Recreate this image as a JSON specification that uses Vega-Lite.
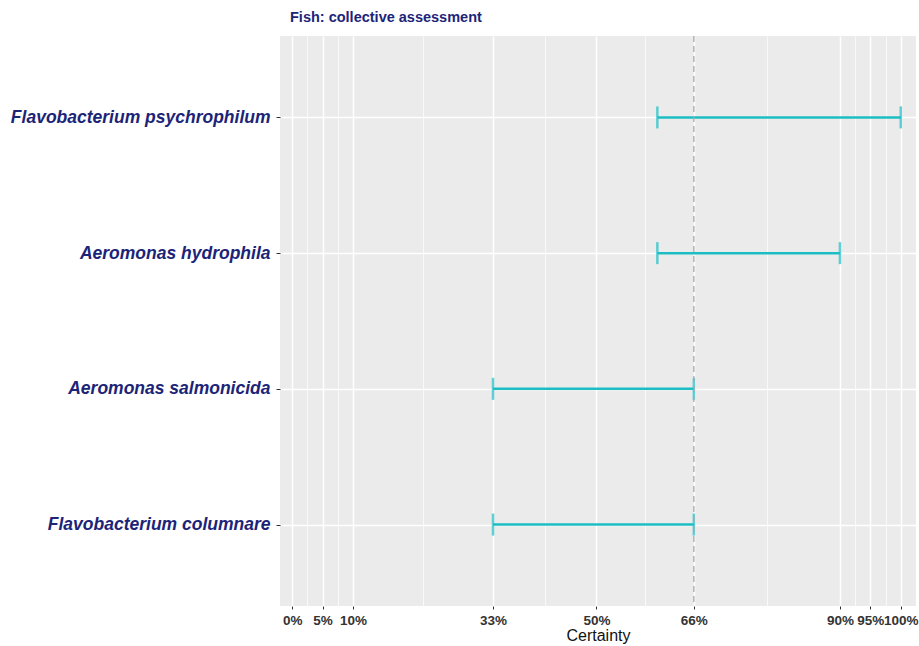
{
  "$schema": "https://vega.github.io/schema/vega-lite/v6.json",
  "autosize": "none",
  "width": 636,
  "height": 570,
  "padding": {"left": 280, "top": 36, "right": 3, "bottom": 40},
  "background": "white",
  "title": {
    "text": "Fish: collective assessment",
    "anchor": "start",
    "frame": "group",
    "offset": 10,
    "dx": 10,
    "font": "Liberation Sans",
    "fontSize": 14.5,
    "fontWeight": "bold",
    "color": "#1C2478"
  },
  "config": {
    "view": {"fill": "#EBEBEB", "stroke": null},
    "axis": {"domain": false}
  },
  "data": {
    "values": [
      {"species": "Flavobacterium psychrophilum", "lo": 60, "hi": 100},
      {"species": "Aeromonas hydrophila", "lo": 60, "hi": 90},
      {"species": "Aeromonas salmonicida", "lo": 33, "hi": 66},
      {"species": "Flavobacterium columnare", "lo": 33, "hi": 66}
    ]
  },
  "resolve": {"axis": {"x": "independent"}},
  "layer": [
    {
      "mark": {"type": "rule", "color": "#1CBEC4", "strokeWidth": 2.5},
      "encoding": {
        "y": {
          "field": "species", "type": "nominal", "sort": null,
          "scale": {"type": "point", "padding": 0.6},
          "axis": {
            "title": null,
            "labelFont": "Liberation Sans",
            "labelFontStyle": "italic",
            "labelFontWeight": "bold",
            "labelFontSize": 17.5,
            "labelColor": "#1C2478",
            "labelLimit": 0,
            "tickColor": "#333333",
            "tickSize": 4,
            "labelPadding": 6,
            "grid": true,
            "gridColor": "white",
            "gridWidth": 1.5
          }
        },
        "x": {
          "field": "lo", "type": "quantitative",
          "scale": {"domain": [-2, 102.5], "nice": false, "zero": false},
          "axis": {
            "values": [0, 5, 10, 33, 50, 66, 90, 95, 100],
            "labelExpr": "datum.value + '%'",
            "labelFont": "Liberation Sans",
            "labelFontWeight": "bold",
            "labelFontSize": 13.5,
            "labelColor": "#333333",
            "labelPadding": 4,
            "labelOverlap": false,
            "tickColor": "#333333",
            "tickSize": 3,
            "grid": true,
            "gridColor": "white",
            "gridWidth": 1.5,
            "title": "Certainty",
            "titleFont": "Liberation Sans",
            "titleFontWeight": "normal",
            "titleFontSize": 16,
            "titleColor": "#111111",
            "titlePadding": 1
          }
        },
        "x2": {"field": "hi"}
      }
    },
    {
      "mark": {"type": "tick", "color": "#1CBEC4", "thickness": 2.5, "size": 22},
      "encoding": {
        "y": {"field": "species", "type": "nominal", "sort": null},
        "x": {
          "field": "lo", "type": "quantitative",
          "axis": {
            "values": [2.5, 7.5, 21.5, 41.5, 58, 78, 92.5, 97.5],
            "grid": true,
            "gridColor": "white",
            "gridWidth": 0.7,
            "labels": false,
            "ticks": false,
            "title": null
          }
        }
      }
    },
    {
      "mark": {"type": "tick", "color": "#1CBEC4", "thickness": 2.5, "size": 22},
      "encoding": {
        "y": {"field": "species", "type": "nominal", "sort": null},
        "x": {"field": "hi", "type": "quantitative", "axis": null}
      }
    },
    {
      "data": {"values": [{"ref": 66}]},
      "mark": {"type": "rule", "color": "#A8A8A8", "strokeWidth": 1.3, "strokeDash": [6, 4]},
      "encoding": {
        "x": {"field": "ref", "type": "quantitative", "axis": null}
      }
    }
  ]
}
